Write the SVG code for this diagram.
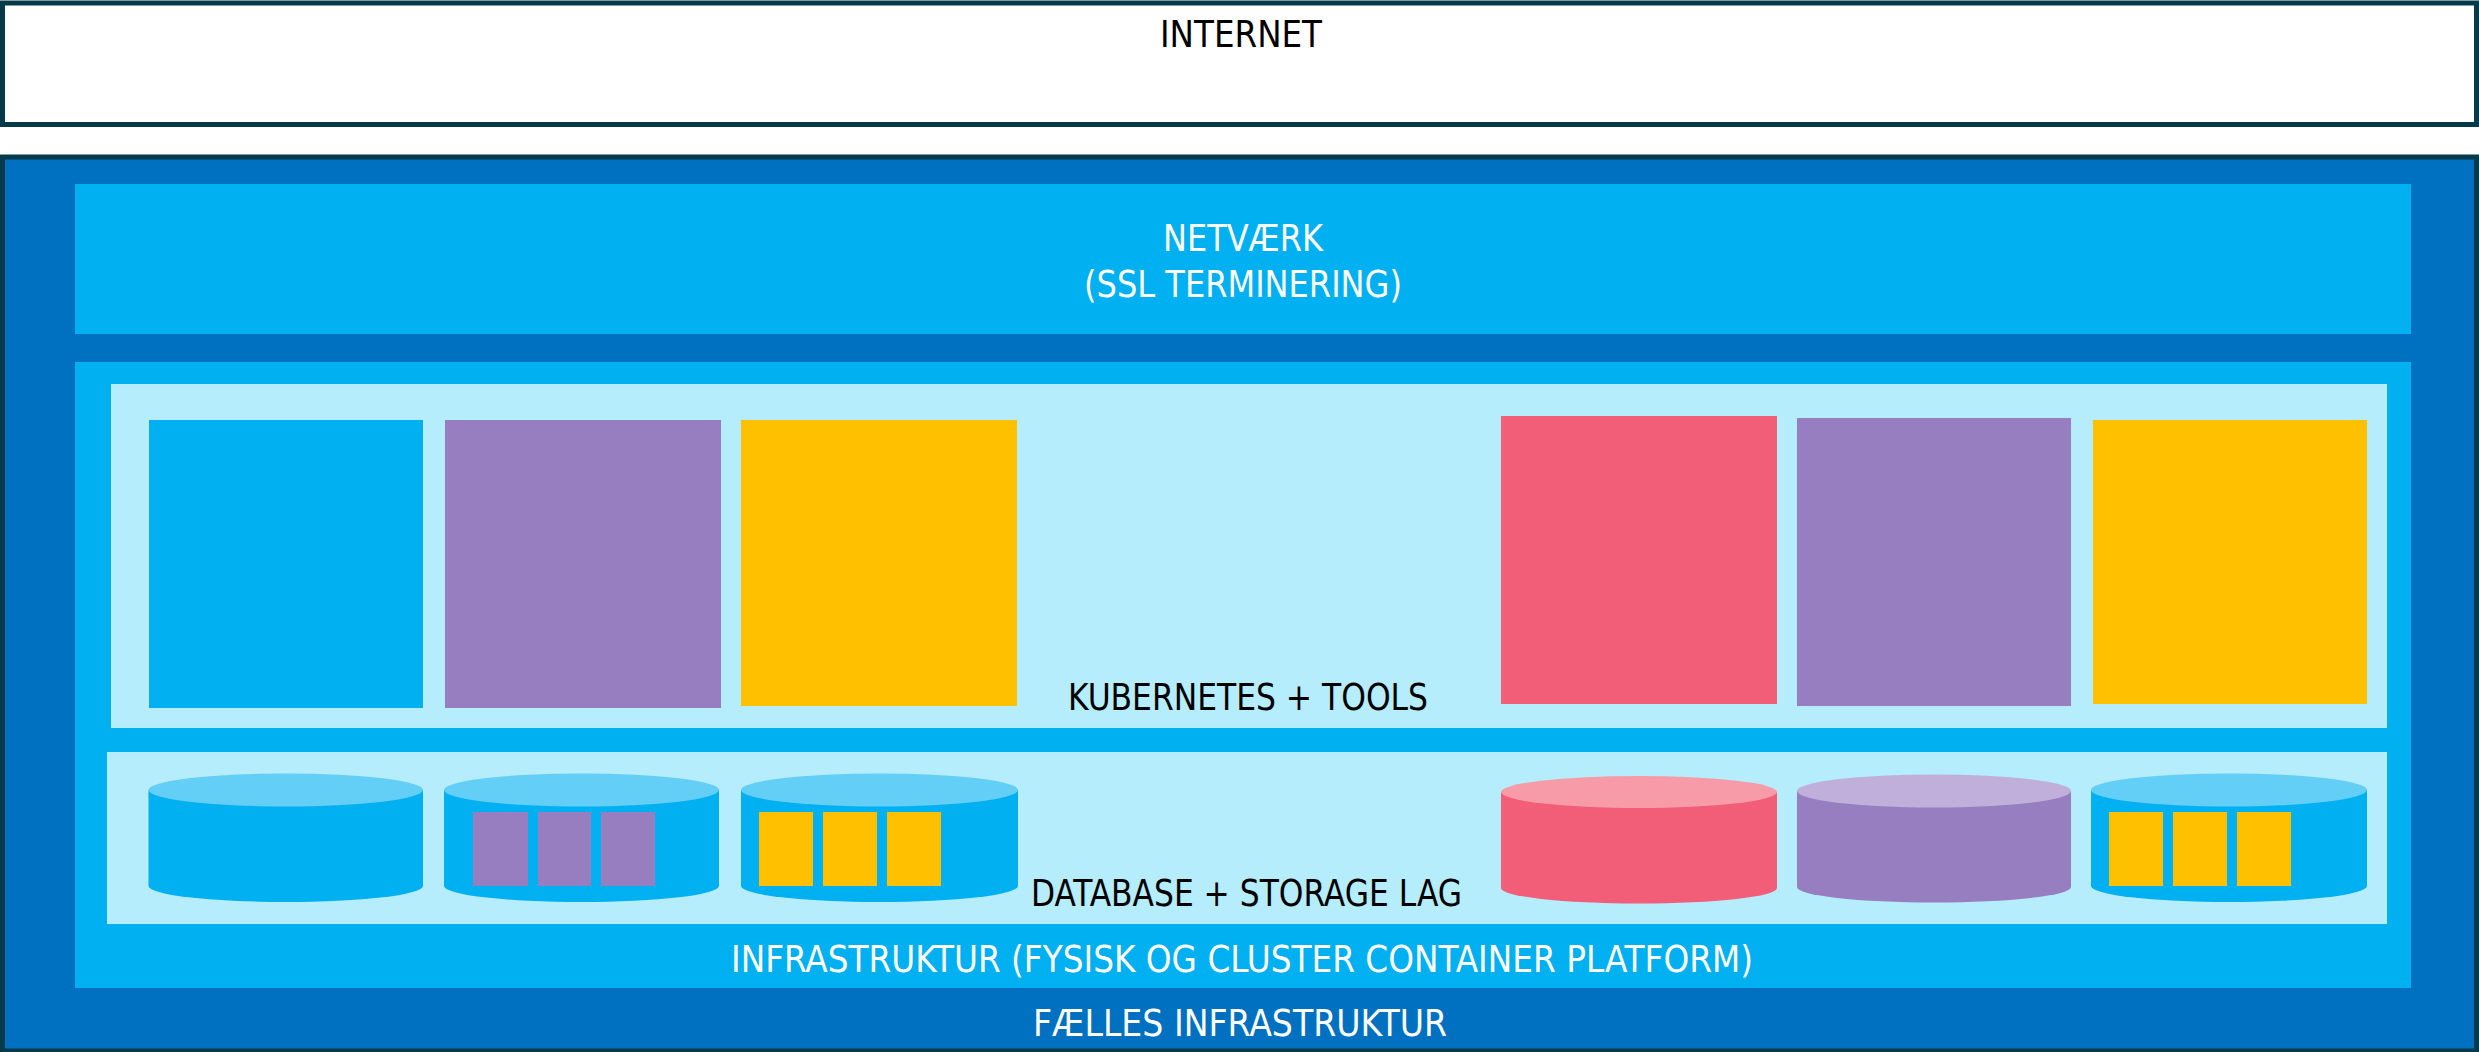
<svg xmlns="http://www.w3.org/2000/svg" width="2479" height="1052" viewBox="0 0 2479 1052">
  <style>
    .lbl { font-family: "DejaVu Sans Condensed", "DejaVu Sans", "Liberation Sans", sans-serif; font-size: 38px; text-anchor: middle; }
    .dark { fill: #000000; }
    .light { fill: #FFFFFF; }
    .mid { fill: #00B0F0; }
    .deep { fill: #0070C0; }
    .pale { fill: #B5EDFD; }
    .purple { fill: #967EC1; }
    .yellow { fill: #FFC000; }
    .red { fill: #F25D78; }
    .topBlue { fill: #63CEF6; }
    .topRed { fill: #F79BA9; }
    .topPurple { fill: #C0AFDA; }
  </style>
  <rect width="2479" height="1052" fill="#FFFFFF"/>

  <g id="internet">
    <rect x="2.5" y="3" width="2474" height="121.5" fill="#FFFFFF" stroke="#063A4B" stroke-width="5"/>
    <text class="lbl dark" x="1241" y="47" textLength="162" lengthAdjust="spacingAndGlyphs">INTERNET</text>
  </g>

  <g id="faelles-infrastruktur">
    <rect x="2.5" y="157" width="2474" height="894" fill="#0070C0" stroke="#063A4B" stroke-width="5"/>
    <text class="lbl light" x="1240" y="1036" textLength="414" lengthAdjust="spacingAndGlyphs">FÆLLES INFRASTRUKTUR</text>
  </g>

  <g id="netvaerk">
    <rect class="mid" x="75" y="184" width="2336" height="150"/>
    <text class="lbl light" x="1243" y="251" textLength="160" lengthAdjust="spacingAndGlyphs">NETVÆRK</text>
    <text class="lbl light" x="1243" y="297" textLength="318" lengthAdjust="spacingAndGlyphs">(SSL TERMINERING)</text>
  </g>

  <g id="infrastruktur">
    <rect class="mid" x="75" y="362" width="2336" height="626"/>
    <text class="lbl light" x="1242" y="972" textLength="1022" lengthAdjust="spacingAndGlyphs">INFRASTRUKTUR (FYSISK OG CLUSTER CONTAINER PLATFORM)</text>
  </g>

  <g id="kubernetes">
    <rect class="pale" x="111" y="384" width="2276" height="344"/>
    <rect class="mid" x="149" y="420" width="274" height="288"/>
    <rect class="purple" x="445" y="420" width="276" height="288"/>
    <rect class="yellow" x="741" y="420" width="276" height="286"/>
    <rect class="red" x="1501" y="416" width="276" height="288"/>
    <rect class="purple" x="1797" y="418" width="274" height="288"/>
    <rect class="yellow" x="2093" y="420" width="274" height="284"/>
    <text class="lbl dark" x="1248" y="710" textLength="360" lengthAdjust="spacingAndGlyphs">KUBERNETES + TOOLS</text>
  </g>

  <g id="database">
    <rect class="pale" x="107" y="752" width="2280" height="172"/>
    <g id="db1">
      <path class="mid" d="M148.5,790 L148.5,886 A137.25,16 0 0 0 423,886 L423,790 Z"/>
      <ellipse class="topBlue" cx="285.75" cy="790" rx="137.25" ry="16.5"/>
    </g>
    <g id="db2">
      <path class="mid" d="M444,790 L444,886 A137.5,16 0 0 0 719,886 L719,790 Z"/>
      <ellipse class="topBlue" cx="581.5" cy="790" rx="137.5" ry="16.5"/>
      <rect class="purple" x="473" y="812" width="55" height="74"/>
      <rect class="purple" x="538" y="812" width="53" height="74"/>
      <rect class="purple" x="601" y="812" width="54" height="74"/>
    </g>
    <g id="db3">
      <path class="mid" d="M741,790 L741,886 A138.5,16 0 0 0 1018,886 L1018,790 Z"/>
      <ellipse class="topBlue" cx="879.5" cy="790" rx="138.5" ry="16.5"/>
      <rect class="yellow" x="759" y="812" width="54" height="74"/>
      <rect class="yellow" x="823" y="812" width="54" height="74"/>
      <rect class="yellow" x="887" y="812" width="54" height="74"/>
    </g>
    <g id="db4">
      <path class="red" d="M1501,792 L1501,888 A138,15.5 0 0 0 1777,888 L1777,792 Z"/>
      <ellipse class="topRed" cx="1639" cy="792" rx="138" ry="16"/>
    </g>
    <g id="db5">
      <path class="purple" d="M1797,791 L1797,887 A137,15.5 0 0 0 2071,887 L2071,791 Z"/>
      <ellipse class="topPurple" cx="1934" cy="791" rx="137" ry="16.5"/>
    </g>
    <g id="db6">
      <path class="mid" d="M2091,790 L2091,886 A138,16 0 0 0 2367,886 L2367,790 Z"/>
      <ellipse class="topBlue" cx="2229" cy="790" rx="138" ry="16.5"/>
      <rect class="yellow" x="2109" y="812" width="54" height="74"/>
      <rect class="yellow" x="2173" y="812" width="54" height="74"/>
      <rect class="yellow" x="2237" y="812" width="54" height="74"/>
    </g>
    <text class="lbl dark" x="1246.5" y="906" textLength="431" lengthAdjust="spacingAndGlyphs">DATABASE + STORAGE LAG</text>
  </g>

  <g id="connectors"></g>
</svg>
